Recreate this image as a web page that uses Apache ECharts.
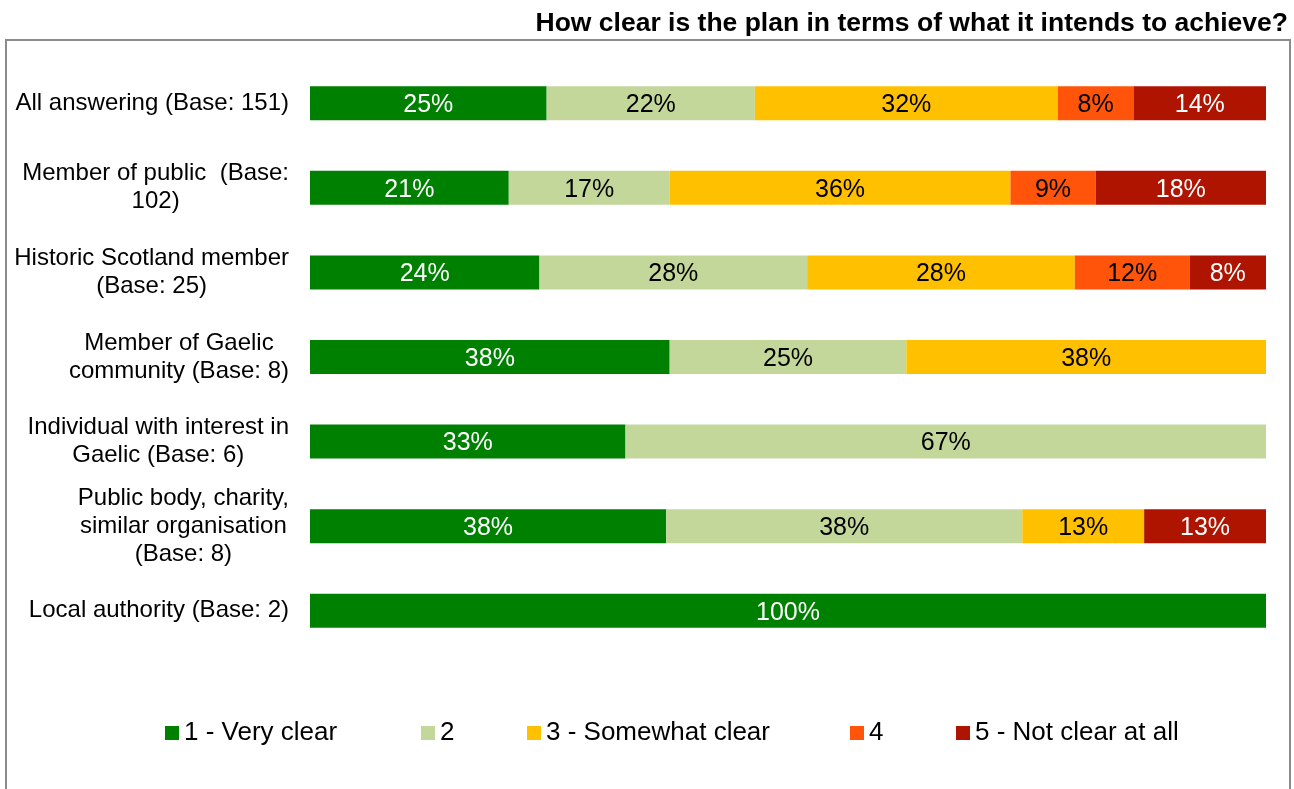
<!DOCTYPE html>
<html>
<head>
<meta charset="utf-8">
<script src="https://cdn.jsdelivr.net/npm/echarts@6/dist/echarts.min.js"></script>
<style>
  html, body { margin: 0; padding: 0; background: #ffffff; }
  #chart { width: 1294px; height: 789px; }
</style>
</head>
<body>
<div id="chart"></div>
<script>
// Respondent groups (top to bottom)
const categories = [
  'All answering (Base: 151)',
  'Member of public  (Base:\n102)',
  'Historic Scotland member\n(Base: 25)',
  'Member of Gaelic\ncommunity (Base: 8)',
  'Individual with interest in\nGaelic (Base: 6)',
  'Public body, charity,\nsimilar organisation\n(Base: 8)',
  'Local authority (Base: 2)'
];

// Rating names
const ratingNames = ['1 - Very clear', '2', '3 - Somewhat clear', '4', '5 - Not clear at all'];

// Share of each group giving each rating (%), as rounded
const veryClear      = [25, 21, 24, 38, 33, 38, 100];
const ratingTwo      = [22, 17, 28, 25, 67, 38, null];
const somewhatClear  = [32, 36, 28, 38, null, 13, null];
const ratingFour     = [8, 9, 12, null, null, null, null];
const notClearAtAll  = [14, 18, 8, null, null, 13, null];

const ratingValues = [veryClear, ratingTwo, somewhatClear, ratingFour, notClearAtAll];
const ratingColors = ['#008000', '#C4D79B', '#FFC000', '#FF540A', '#AE1400'];
const labelColors  = ['#ffffff', '#000000', '#000000', '#000000', '#ffffff'];

// Rounded shares do not always add to 100, so each row is scaled to fill the bar
const rowTotals = categories.map((_, i) =>
  ratingValues.reduce((s, arr) => s + (arr[i] || 0), 0));

const FONT = '"Liberation Sans", Arial, sans-serif';

const series = ratingNames.map((name, k) => ({
  name: name,
  type: 'bar',
  stack: 'total',
  barWidth: 34,
  itemStyle: { color: ratingColors[k] },
  label: {
    show: true,
    position: 'inside',
    offset: [0, 2],
    color: labelColors[k],
    fontFamily: FONT,
    fontSize: 25,
    formatter: p => p.data && p.data.shown != null ? p.data.shown + '%' : ''
  },
  data: ratingValues[k].map((v, i) =>
    v == null ? { value: null } : { value: v / rowTotals[i] * 100, shown: v })
}));

const legendLefts = [165, 421, 527, 850, 956];
const legends = ratingNames.map((name, k) => ({
  data: [name],
  left: legendLefts[k],
  top: 720,
  padding: 0,
  icon: 'rect',
  itemWidth: 14,
  itemHeight: 14,
  textStyle: { fontFamily: FONT, fontSize: 26, color: '#000000' },
  selectedMode: false
}));

const chart = echarts.init(document.getElementById('chart'), null, { renderer: 'canvas' });
chart.setOption({
  animation: false,
  backgroundColor: '#ffffff',
  title: {
    text: 'How clear is the plan in terms of what it intends to achieve?',
    right: 6,
    top: 10,
    padding: 0,
    textStyle: { fontFamily: FONT, fontSize: 26.5, fontWeight: 'bold', color: '#000000' }
  },
  graphic: [{
    type: 'rect',
    z: -10,
    silent: true,
    shape: { x: 6, y: 40, width: 1284, height: 780 },
    style: { fill: null, stroke: '#8c8c8c', lineWidth: 2 }
  }],
  legend: legends,
  grid: { left: 310, right: 28, top: 61, bottom: 136, containLabel: false },
  xAxis: {
    type: 'value',
    min: 0,
    max: 100,
    show: false
  },
  yAxis: {
    type: 'category',
    inverse: true,
    data: categories,
    axisLine: { show: false },
    axisTick: { show: false },
    axisLabel: {
      margin: 21,
      align: 'right',
      formatter: v => v.split('\n').map(line => '{c|' + line + '}').join('\n'),
      rich: {
        c: { align: 'center', fontFamily: FONT, fontSize: 24, lineHeight: 28, color: '#000000' }
      }
    }
  },
  series: series
});
</script>
</body>
</html>
